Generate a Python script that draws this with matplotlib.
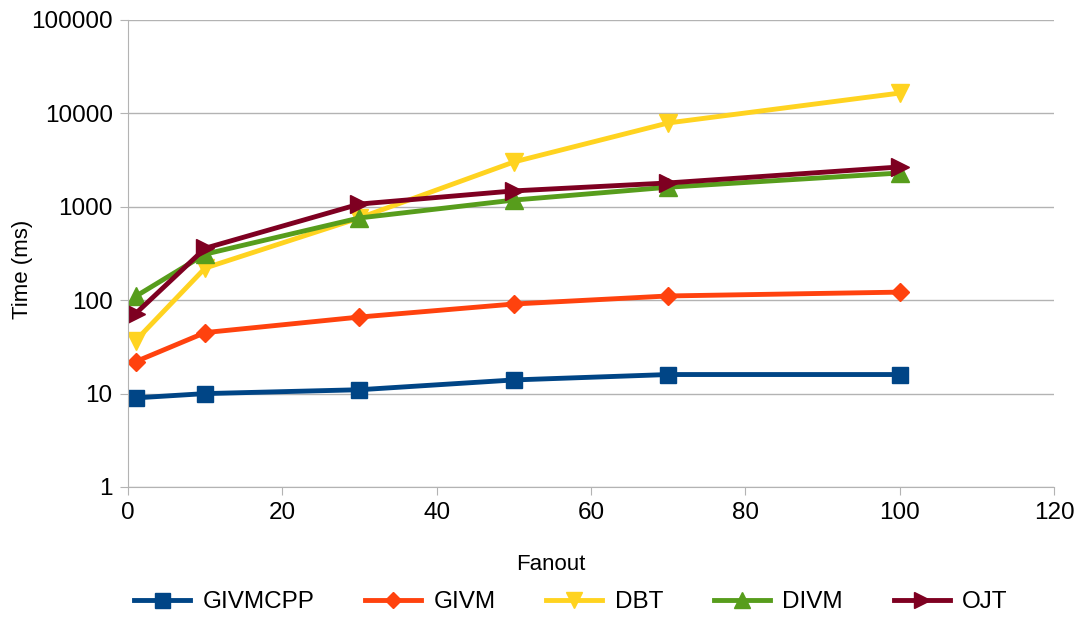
import matplotlib.pyplot as plt

plt.rcParams['font.family'] = ['Liberation Sans', 'DejaVu Sans']

fanout = [1, 10, 30, 50, 70, 100]
givmcpp = [9, 10, 11, 14, 16, 16]
givm = [22, 45, 66, 91, 111, 122]
dbt = [37, 221, 760, 3020, 7900, 16500]
divm = [110, 311, 760, 1180, 1620, 2300]
ojt = [72, 360, 1070, 1480, 1800, 2670]

series = [
    ("GIVMCPP", givmcpp, "#004586", "s", 12),
    ("GIVM", givm, "#ff420e", "D", 9),
    ("DBT", dbt, "#ffd320", "v", 13),
    ("DIVM", divm, "#579d1c", "^", 13),
    ("OJT", ojt, "#7e0021", ">", 13),
]

fig = plt.figure(figsize=(10.81, 6.17), dpi=100)
ax = fig.add_axes([0.1184, 0.2107, 0.8566, 0.7569])

for name, vals, color, mk, ms in series:
    ax.plot(fanout, vals, color=color, marker=mk, markersize=ms, linewidth=3.5, label=name)

ax.set_yscale('log')
ax.set_ylim(1, 100000)
ax.set_xlim(0, 120)
ax.set_xticks(range(0, 121, 20))
ax.set_yticks([1, 10, 100, 1000, 10000, 100000])
ax.set_yticklabels(["1", "10", "100", "1000", "10000", "100000"])
ax.minorticks_off()
ax.grid(axis='y', color='#b3b3b3', linewidth=1)
ax.set_axisbelow(True)
for s in ['top', 'right']:
    ax.spines[s].set_visible(False)
for s in ['left', 'bottom']:
    ax.spines[s].set_color('#b3b3b3')
ax.tick_params(colors='#b3b3b3', labelcolor='black', labelsize=17.5, length=6, pad=5)
ax.set_xlabel("Fanout", fontsize=16)
ax.set_ylabel("Time (ms)", fontsize=16)
ax.xaxis.set_label_coords(0.457, -0.143)
ax.yaxis.set_label_coords(-0.103, 0.467)

fig.legend(loc='center', bbox_to_anchor=(0.528, 0.024), ncol=5, frameon=False,
           fontsize=17.5, handlelength=2.3, handletextpad=0.5, columnspacing=2.1,
           markerscale=0.9)

fig.savefig("out.png", dpi=100)
